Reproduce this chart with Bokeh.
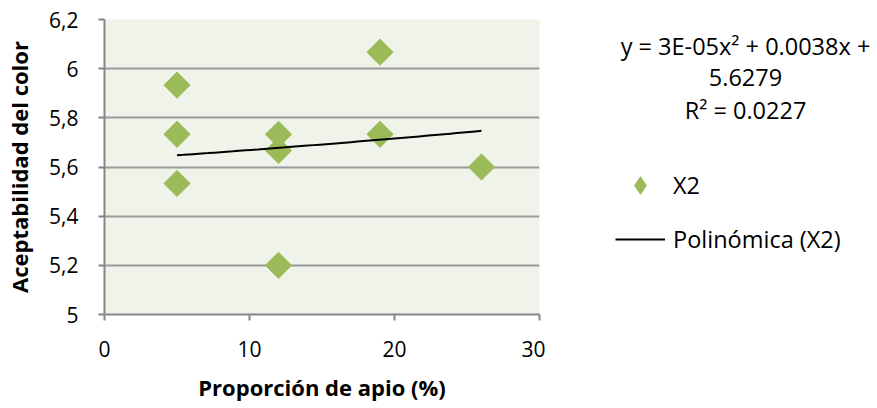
import numpy as np
from bokeh.plotting import figure
from bokeh.layouts import row
from bokeh.models import ColumnDataSource, FixedTicker, Legend, LegendItem, Range1d
from bokeh.core.properties import value
from bokeh.embed import file_html
from bokeh.resources import INLINE

# Data
x_vals = [5, 5, 5, 12, 12, 12, 19, 19, 26]
y_vals = [5.933, 5.733, 5.533, 5.733, 5.667, 5.2, 6.067, 5.733, 5.6]
# Trendline coefficients as printed on the chart (a*x^2 + b*x + c)
coef_a = 3e-05
coef_b = 0.0038
coef_c = 5.6279
trend_x_start = 5
trend_x_end = 26
x_ticks = [0, 10, 20, 30]
y_ticks = [5.0, 5.2, 5.4, 5.6, 5.8, 6.0, 6.2]
y_tick_labels = ["5", "5,2", "5,4", "5,6", "5,8", "6", "6,2"]
eq_lines = ["y = 3E-05x\u00b2 + 0.0038x +", "5.6279", "R\u00b2 = 0.0227"]

FONT = "Open Sans"
GREEN = "#9BBB59"

# ---------- main chart ----------
p = figure(width=545, height=408, output_backend="svg", toolbar_location=None,
           x_range=Range1d(0, 30), y_range=Range1d(5, 6.2),
           min_border_left=104, min_border_right=6, min_border_top=19, min_border_bottom=94)
p.frame_width = 435
p.frame_height = 295

p.background_fill_color = "#F0F3EA"
p.border_fill_color = "white"
p.outline_line_color = None

p.xgrid.grid_line_color = None
p.ygrid.grid_line_color = "#9A9A9A"
p.ygrid.grid_line_width = 2
p.ygrid.ticker = FixedTicker(ticks=y_ticks)

p.xaxis.ticker = FixedTicker(ticks=x_ticks)
p.yaxis.ticker = FixedTicker(ticks=y_ticks)
p.yaxis.major_label_overrides = {t: l for t, l in zip(y_ticks, y_tick_labels)}

for ax in (p.xaxis, p.yaxis):
    ax.axis_line_color = "#868686"
    ax.axis_line_width = 2
    ax.major_tick_line_color = "#868686"
    ax.major_tick_line_width = 2
    ax.major_tick_out = 6
    ax.major_tick_in = 0
    ax.minor_tick_line_color = None
    ax.major_label_text_font = FONT
    ax.major_label_text_font_size = "21px"
    ax.major_label_text_color = "black"
    ax.axis_label_text_font = FONT
    ax.axis_label_text_font_size = "22px"
    ax.axis_label_text_font_style = "bold"
    ax.axis_label_text_color = "black"

p.xaxis.axis_label = "Proporción de apio (%)"
p.yaxis.axis_label = "Aceptabilidad del color"
p.xaxis.major_label_standoff = 20
p.yaxis.major_label_standoff = 20
p.xaxis.axis_label_standoff = 12
p.yaxis.axis_label_standoff = 12

src = ColumnDataSource(data=dict(x=x_vals, y=y_vals))
p.scatter("x", "y", source=src, marker="square", size=18.5, angle=np.pi / 4,
          fill_color=GREEN, line_color=GREEN)

tx = np.linspace(trend_x_start, trend_x_end, 50)
ty = coef_a * tx ** 2 + coef_b * tx + coef_c
p.line(tx, ty, line_color="black", line_width=2)

# ---------- side panel: trendline equation + legend ----------
# frame aligned vertically with the main chart's frame (rows 19..314 of the page)
s = figure(width=332, height=408, output_backend="svg", toolbar_location=None,
           x_range=Range1d(545, 877), y_range=Range1d(314, 19),
           min_border_left=0, min_border_right=0, min_border_top=19, min_border_bottom=94)
s.frame_height = 295
s.axis.visible = False
s.grid.visible = False
s.outline_line_color = None
s.background_fill_color = "white"
s.border_fill_color = "white"

eq_src = ColumnDataSource(data=dict(x=[745, 745, 745], y=[45, 77, 109], t=eq_lines))
s.text("x", "y", text="t", source=eq_src, text_font=value(FONT), text_font_size="23.5px",
       text_color="black", text_align="center", text_baseline="middle")

# legend-only renderers (no visible data in this panel)
empty = ColumnDataSource(data=dict(x=[np.nan], y=[np.nan]))
leg_pts = s.scatter("x", "y", source=empty, marker="diamond", size=18.5,
                    fill_color=GREEN, line_color=GREEN)
leg_line = s.line("x", "y", source=empty, line_color="black", line_width=2)

legend = Legend(items=[LegendItem(label="X2", renderers=[leg_pts]),
                       LegendItem(label="Polinómica (X2)", renderers=[leg_line])],
                location=(70, 53), orientation="vertical",
                glyph_width=50, glyph_height=44, label_height=44, spacing=10,
                padding=0, margin=0, label_standoff=8,
                label_text_font=FONT, label_text_font_size="23.5px",
                label_text_color="black", label_text_baseline="middle",
                border_line_color=None, background_fill_alpha=0)
s.add_layout(legend)

layout = row(p, s)
open("out.html", "w").write(file_html(layout, INLINE))
